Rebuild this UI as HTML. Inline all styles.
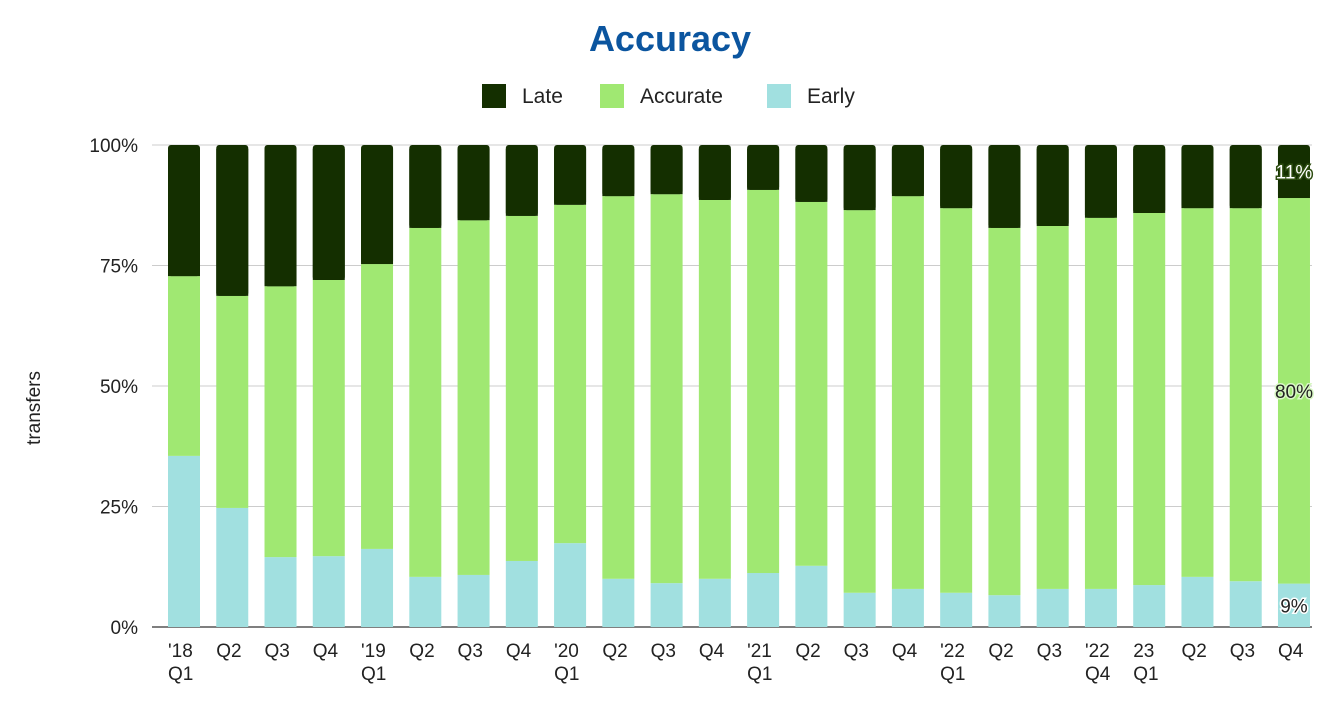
<!DOCTYPE html>
<html><head><meta charset="utf-8"><style>
body{margin:0;background:#fff;font-family:"Liberation Sans",Arial,sans-serif}
svg text{font-family:"Liberation Sans",Arial,sans-serif}
</style></head><body>
<svg id="chart" width="1340" height="702" viewBox="0 0 1340 702" xmlns="http://www.w3.org/2000/svg">
<text x="670" y="51" text-anchor="middle" font-size="36" font-weight="bold" fill="#0b559f">Accuracy</text>
<g font-size="21" fill="#222">
<g><rect x="482" y="84" width="24" height="24" fill="#142f00"/><text x="522" y="103">Late</text></g>
<g><rect x="600" y="84" width="24" height="24" fill="#a0e872"/><text x="640" y="103">Accurate</text></g>
<g><rect x="767" y="84" width="24" height="24" fill="#a1e0e0"/><text x="807" y="103">Early</text></g>
</g>
<text transform="translate(40,408) rotate(-90)" text-anchor="middle" font-size="19" fill="#222">transfers</text>
<g id="grid"></g><g id="bars"></g><g id="labels"></g>
</svg>
<script>
const categories=["'18|Q1","Q2","Q3","Q4","'19|Q1","Q2","Q3","Q4","'20|Q1","Q2","Q3","Q4","'21|Q1","Q2","Q3","Q4","'22|Q1","Q2","Q3","'22|Q4","23|Q1","Q2","Q3","Q4"];
const early=[35.5,24.7,14.5,14.7,16.2,10.4,10.8,13.7,17.4,10.0,9.1,10.0,11.2,12.7,7.1,7.9,7.1,6.6,7.9,7.9,8.7,10.4,9.5,9];
const accurate=[37.3,44.0,56.2,57.3,59.1,72.4,73.6,71.6,70.2,79.4,80.7,78.6,79.5,75.5,79.4,81.5,79.8,76.2,75.3,77.0,77.2,76.5,77.4,80];
const late=[27.2,31.3,29.3,28.0,24.7,17.2,15.6,14.7,12.4,10.6,10.2,11.4,9.3,11.8,13.5,10.6,13.1,17.2,16.8,15.1,14.1,13.1,13.1,11];
const yTicks=[0,25,50,75,100];
const ns="http://www.w3.org/2000/svg";
const X0=160,BAND=48.26,BW=32,Y0=627,Y1=145;
const y=v=>Y0-(v/100)*(Y0-Y1);
const x=i=>X0+i*BAND+8;
function mk(t,a,p){const e=document.createElementNS(ns,t);for(const k in a)e.setAttribute(k,a[k]);p.appendChild(e);return e;}
const grid=document.getElementById('grid'),bars=document.getElementById('bars'),labels=document.getElementById('labels');
yTicks.forEach(t=>{
  const l=mk('line',{x1:152,x2:1312,y1:y(t),y2:y(t),stroke:t===0?'#333':'#ccc','stroke-width':t===0?1.2:1},grid);
  
  
  const tx=mk('text',{x:138,y:y(t)+7,'text-anchor':'end','font-size':19,fill:'#222'},grid);
  tx.textContent=t+'%';
  
  
});
const series=[[early,'#a1e0e0','early'],[accurate,'#a0e872','accurate'],[late,'#142f00','late']];
categories.forEach((c,i)=>{
  let base=0;
  series.forEach(([arr,col,nm],si)=>{
    const v=arr[i];
    const top=si===2?100:base+v;
    const r=mk('rect',{x:x(i),y:y(top),width:BW,height:y(base)-y(top),fill:col,rx:si===2?3:0},bars);
    
    
    if(si===2)mk('rect',{x:x(i),y:y(top)+4,width:BW,height:Math.max(0,y(base)-y(top)-4),fill:col},bars);
    base+=v;
  });
  const parts=c.split('|');
  parts.forEach((p,k)=>{
    const t=mk('text',{x:x(i),y:657+k*23,'font-size':19,fill:'#222'},labels);
    t.textContent=p;
    
    
  });
});
const li=categories.length-1;
const lab=[[early[li],early[li]/2,'#222','#fff','early'],[accurate[li],early[li]+accurate[li]/2,'#222','#d8f7c4','accurate'],[late[li],100-late[li]/2,'#fff','#2d4d10','late']];
lab.forEach(([v,pos,fill,halo,nm])=>{
  const t=mk('text',{x:x(li)+BW/2,y:y(pos)+7,'text-anchor':'middle','font-size':19,fill:fill,stroke:halo,'stroke-width':3,'paint-order':'stroke'},labels);
  t.textContent=Math.round(v)+'%';
  
  
});
</script>
</body></html>
